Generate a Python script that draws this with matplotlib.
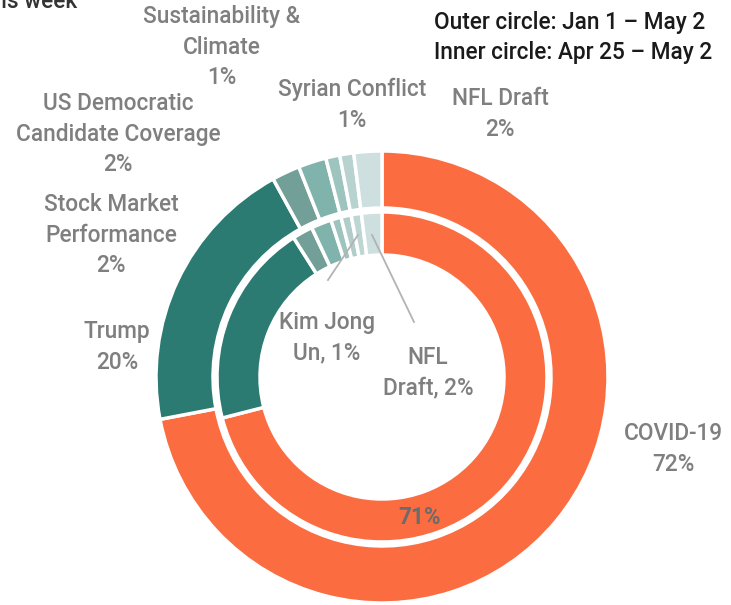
import matplotlib.pyplot as plt

# share of coverage by topic
outer_topics = ["COVID-19", "Trump", "Stock Market Performance", "US Democratic Candidate Coverage",
                "Sustainability & Climate", "Syrian Conflict", "NFL Draft"]
outer_share = [72, 20, 2, 2, 1, 1, 2]

inner_topics = ["COVID-19", "Trump", "Stock Market Performance", "US Democratic Candidate Coverage",
                "Sustainability & Climate", "Syrian Conflict", "Kim Jong Un", "NFL Draft"]
inner_share = [71, 20, 2, 2, 1, 1, 1, 2]

outer_colors = ["#fb6d40", "#2b7b72", "#72a099", "#7fb3ac", "#9ec4bf", "#b7d2cf", "#cddfde"]
inner_colors = ["#fb6d40", "#2b7b72", "#72a099", "#7fb3ac", "#9ec4bf", "#b0cdca", "#bdd6d3", "#cddfde"]

W, H = 731, 605
GREY = "#7f7f7f"
FONT = "Roboto"
FS = 16.3

fig = plt.figure(figsize=(W / 100, H / 100), dpi=100)
ax = fig.add_axes([0, 0, 1, 1])


def py(y):
    # flip from top-down pixel rows to the axes' bottom-up y
    return H - y


cx, cy = 382, py(377)
edge = dict(edgecolor="white", linewidth=2.5)
ax.pie(outer_share, colors=outer_colors, radius=226, center=(cx, cy), startangle=90,
       counterclock=False, wedgeprops=dict(width=57, **edge))
ax.pie(inner_share, colors=inner_colors, radius=165, center=(cx, cy), startangle=90,
       counterclock=False, wedgeprops=dict(width=43, **edge))

ax.set_xlim(0, W)
ax.set_ylim(0, H)
ax.set_aspect("equal")
ax.axis("off")

labels = [
    ("Sustainability &\nClimate\n1%", 222, 47),
    ("US Democratic\nCandidate Coverage\n2%", 118, 134),
    ("Stock Market\nPerformance\n2%", 111, 235),
    ("Trump\n20%", 117, 347),
    ("Syrian Conflict\n1%", 352, 105),
    ("NFL Draft\n2%", 500, 114),
    ("COVID-19\n72%", 673, 449),
    ("Kim Jong\nUn, 1%", 327, 338),
    ("NFL\nDraft, 2%", 428, 373),
]
for txt, x, y in labels:
    ax.text(x, py(y), txt, ha="center", va="center", color=GREY, fontsize=FS,
            family=FONT, fontweight="medium", linespacing=1.42)
ax.text(420, py(517), "71%", ha="center", va="center", color="#6b6b6b", fontsize=FS,
        family=FONT, fontweight="bold")

# leader lines for the small inner slices
ax.plot([328, 358], [py(280), py(235)], color="#b3b3b3", lw=1.3)
ax.plot([372, 414], [py(235), py(322)], color="#b3b3b3", lw=1.3)

ax.text(434, py(23), "Outer circle: Jan 1 \u2013 May 2", ha="left", va="center",
        color="#1a1a1a", fontsize=FS, family=FONT, fontweight="medium")
ax.text(434, py(53), "Inner circle: Apr 25 \u2013 May 2", ha="left", va="center",
        color="#1a1a1a", fontsize=FS, family=FONT, fontweight="medium")
ax.text(77, py(2), "this week", ha="right", va="center", color="#333333",
        fontsize=FS, family=FONT, fontweight="medium")

fig.savefig("out.png", dpi=100)
